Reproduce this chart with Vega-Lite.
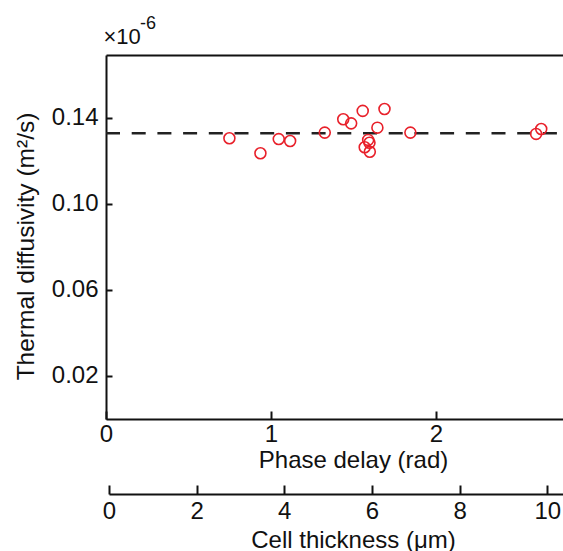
{
  "$schema": "https://vega.github.io/schema/vega-lite/v6.json",
  "width": 457,
  "height": 364,
  "autosize": {"type": "none"},
  "padding": {"left": 106, "top": 55, "right": 0, "bottom": 132},
  "title": {"text": "-6", "anchor": "start", "frame": "group", "fontSize": 18, "fontWeight": "normal", "baseline": "alphabetic", "offset": -22, "color": "#111", "dx": 34, "font": "Liberation Sans"},
  "config": {
    "font": "Liberation Sans",
    "view": {"stroke": null},
    "title": {"font": "Liberation Sans", "fontWeight": "normal"},
    "axis": {"grid": false, "labelFontSize": 24, "titleFontSize": 24, "labelColor": "#111", "titleColor": "#111", "domainColor": "#111", "tickColor": "#111", "titleFontWeight": "normal", "domainWidth": 2, "tickWidth": 2, "labelFont": "Liberation Sans", "titleFont": "Liberation Sans", "labelFlush": false}
  },
  "resolve": {"scale": {"x": "independent"}},
  "layer": [
    {
      "data": {"values": [{"start": 0, "end": 2.74, "fit": 0.1329}]},
      "mark": {"type": "rule", "strokeDash": [14, 11.7], "strokeWidth": 2.5, "color": "#222"},
      "encoding": {
        "x": {"field": "start", "type": "quantitative", "scale": {"domain": [0, 2.77], "nice": false, "zero": false},
          "axis": {"orient": "bottom", "values": [0, 1, 2], "format": "d", "tickSize": -8, "labelPadding": 11, "title": "Phase delay (rad)", "titleX": 247, "titleY": 48, "titleBaseline": "alphabetic"}},
        "x2": {"field": "end"},
        "y": {"field": "fit", "type": "quantitative", "scale": {"domain": [0, 0.1693], "nice": false, "zero": false},
          "axis": {"orient": "left", "values": [0.02, 0.06, 0.1, 0.14], "format": ".2f", "tickSize": -6, "labelPadding": 14, "title": "Thermal diffusivity (m²/s)", "titleFontSize": 24.5, "titleX": -73, "titleY": 191, "titleBaseline": "alphabetic", "titleAlign": "center"}}
      }
    },
    {
      "data": {"values": [
        {"phase": 0.748, "diff": 0.1306},
        {"phase": 0.936, "diff": 0.1236},
        {"phase": 1.047, "diff": 0.1302},
        {"phase": 1.116, "diff": 0.1293},
        {"phase": 1.326, "diff": 0.1332},
        {"phase": 1.438, "diff": 0.1394},
        {"phase": 1.486, "diff": 0.1375},
        {"phase": 1.556, "diff": 0.1433},
        {"phase": 1.688, "diff": 0.1442},
        {"phase": 1.645, "diff": 0.1355},
        {"phase": 1.589, "diff": 0.1298},
        {"phase": 1.597, "diff": 0.1285},
        {"phase": 1.568, "diff": 0.1264},
        {"phase": 1.599, "diff": 0.1243},
        {"phase": 1.845, "diff": 0.1332},
        {"phase": 2.607, "diff": 0.1326},
        {"phase": 2.638, "diff": 0.1349}
      ]},
      "mark": {"type": "point", "shape": "circle", "filled": false, "color": "#e8202a", "size": 120, "strokeWidth": 1.6, "opacity": 1},
      "encoding": {
        "x": {"field": "phase", "type": "quantitative", "scale": {"domain": [0, 2.77], "nice": false, "zero": false},
          "axis": {"orient": "top", "labels": false, "ticks": false, "domain": true, "title": "×10", "titleFontSize": 22, "titleX": -3, "titleY": -12, "titleAlign": "left", "titleBaseline": "alphabetic"}},
        "y": {"field": "diff", "type": "quantitative",
          "axis": {"orient": "left", "values": [0.02, 0.06, 0.1, 0.14], "format": ".2f", "tickSize": -6, "labelPadding": 14, "title": "Thermal diffusivity (m²/s)", "titleFontSize": 24.5, "titleX": -73, "titleY": 191, "titleBaseline": "alphabetic", "titleAlign": "center"}}
      }
    },
    {
      "data": {"values": [{"um": 0}, {"um": 10}]},
      "mark": {"type": "rule", "opacity": 0},
      "encoding": {
        "x": {"field": "um", "type": "quantitative", "scale": {"domain": [0, 10.36], "range": [3, 457], "nice": false, "zero": false},
          "axis": {"orient": "bottom", "offset": 75, "values": [0, 2, 4, 6, 8, 10], "format": "d", "tickSize": -9, "labelPadding": 14, "title": "Cell thickness (μm)", "titleX": 247, "titleY": 53, "titleBaseline": "alphabetic"}}
      }
    }
  ]
}
